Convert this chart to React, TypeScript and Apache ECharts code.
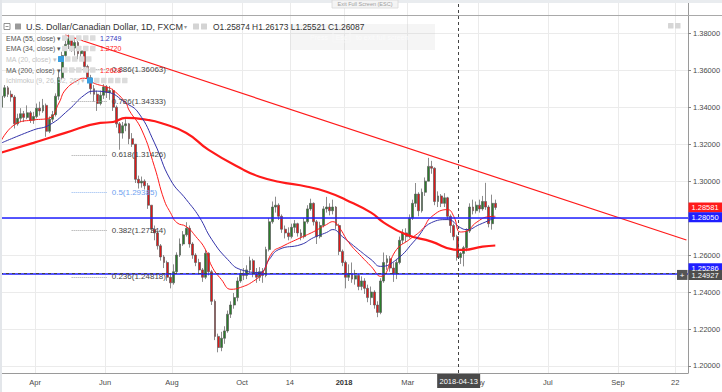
import React, { useEffect, useRef } from 'react';
import * as echarts from 'echarts';

// ---------- data (prices x 1e4: [open, close, low, high]) ----------
const candles: number[][] = [
  [13400,13460,13390,13475],[13460,13505,13450,13520],[13505,13470,13455,13515],[13470,13455,13430,13490],
  [13455,13310,13285,13465],[13310,13340,13300,13365],[13340,13365,13320,13395],[13365,13345,13320,13380],
  [13345,13370,13335,13410],[13370,13330,13315,13380],[13330,13350,13310,13375],[13350,13395,13340,13420],
  [13395,13380,13355,13430],[13380,13410,13370,13445],[13410,13270,13240,13420],[13270,13335,13260,13350],
  [13335,13360,13320,13380],[13360,13460,13350,13475],[13460,13560,13440,13590],[13560,13680,13550,13700],
  [13680,13740,13660,13760],[13740,13770,13715,13793],[13770,13720,13700,13785],[13720,13750,13680,13775],
  [13750,13690,13660,13760],[13690,13705,13650,13730],[13705,13620,13600,13710],[13620,13560,13540,13630],
  [13560,13500,13470,13575],[13500,13470,13430,13520],[13470,13420,13380,13490],[13420,13465,13410,13490],
  [13465,13510,13445,13525],[13510,13480,13450,13520],[13480,13490,13440,13515],[13490,13400,13380,13500],
  [13400,13310,13290,13410],[13310,13260,13170,13320],[13260,13300,13230,13320],[13300,13310,13270,13335],
  [13310,13230,13200,13315],[13230,13200,13185,13260],[13200,13010,12990,13200],[13010,12990,12960,13030],
  [12990,13000,12965,13025],[13000,12975,12955,13010],[12975,12870,12850,12990],[12870,12740,12720,12870],
  [12740,12720,12680,12760],[12720,12650,12630,12725],[12650,12590,12570,12660],[12590,12560,12530,12600],
  [12560,12480,12460,12570],[12480,12450,12420,12500],[12450,12510,12440,12550],[12510,12600,12500,12615],
  [12600,12660,12590,12690],[12660,12710,12650,12730],[12710,12745,12700,12778],[12745,12660,12640,12760],
  [12660,12600,12580,12670],[12600,12560,12540,12610],[12560,12520,12495,12580],[12520,12480,12455,12530],
  [12480,12610,12470,12630],[12610,12510,12490,12615],[12510,12350,12330,12520],[12350,12160,12140,12360],
  [12160,12100,12074,12175],[12100,12150,12080,12185],[12150,12190,12120,12215],[12190,12280,12180,12300],
  [12280,12330,12260,12350],[12330,12370,12310,12395],[12370,12460,12350,12480],[12460,12500,12450,12520],
  [12500,12490,12465,12530],[12490,12520,12470,12545],[12520,12570,12500,12592],[12570,12500,12480,12580],
  [12500,12480,12450,12530],[12480,12510,12460,12535],[12510,12490,12450,12530],[12490,12630,12480,12645],
  [12630,12780,12620,12800],[12780,12860,12770,12890],[12860,12870,12830,12916],[12870,12810,12790,12880],
  [12810,12740,12720,12820],[12740,12720,12690,12760],[12720,12700,12680,12750],[12700,12750,12690,12770],
  [12750,12770,12720,12790],[12770,12720,12700,12775],[12720,12700,12680,12740],[12700,12780,12690,12800],
  [12780,12850,12770,12870],[12850,12880,12840,12905],[12880,12780,12760,12885],[12780,12700,12660,12790],
  [12700,12760,12690,12780],[12760,12850,12750,12865],[12850,12860,12830,12915],[12860,12840,12815,12880],
  [12840,12860,12820,12900],[12860,12760,12740,12865],[12760,12620,12600,12770],[12620,12560,12540,12630],
  [12560,12480,12420,12570],[12480,12500,12460,12550],[12500,12470,12450,12560],[12470,12490,12440,12520],
  [12490,12430,12410,12500],[12430,12460,12410,12485],[12460,12420,12390,12475],[12420,12370,12345,12440],
  [12370,12400,12330,12430],[12400,12330,12310,12410],[12330,12290,12264,12350],[12290,12460,12280,12475],
  [12460,12560,12450,12614],[12560,12580,12520,12600],[12580,12530,12510,12595],[12530,12500,12455,12560],
  [12500,12560,12470,12580],[12560,12680,12550,12700],[12680,12720,12660,12740],[12720,12700,12670,12745],
  [12700,12800,12690,12820],[12800,12880,12790,12900],[12880,12930,12860,12990],[12930,12840,12810,12940],
  [12840,12940,12830,12960],[12940,13000,12920,13020],[13000,13080,13000,13126],[13080,13070,13040,13110],
  [13070,12890,12870,13075],[12890,12920,12860,12945],[12920,12880,12860,12930],[12880,12910,12860,12935],
  [12910,12810,12790,12915],[12810,12760,12720,12820],[12760,12700,12680,12770],[12700,12587,12570,12710],
  [12587,12609,12552,12617],[12609,12640,12539,12650],[12640,12730,12620,12745],[12730,12860,12720,12880],
  [12860,12840,12820,12900],[12840,12870,12825,12890],[12870,12850,12830,12900],[12850,12890,12840,12920],
  [12890,12860,12845,12991],[12860,12770,12750,12870],[12770,12880,12738,12927],[12880,12858,12845,12900],
];

const ema34Points: number[][] = [
  [0,1.3223],[5,1.3315],[10,1.3331],[15,1.3342],[18,1.3423],[20,1.3493],[24,1.3547],[26,1.3557],
  [29,1.3530],[33,1.3509],[35,1.3493],[39,1.3423],[40,1.3385],[44,1.3277],[48,1.3078],[51,1.2900],
  [53,1.2830],[55,1.2776],[58,1.2754],[61,1.2700],[64,1.2630],[66,1.2539],[69,1.2468],[72,1.2415],
  [75,1.2425],[79,1.2458],[82,1.2506],[85,1.2614],[88,1.2646],[94,1.2695],[98,1.2727],[102,1.2765],
  [104,1.2781],[106,1.2749],[109,1.2668],[113,1.2592],[116,1.2539],[119,1.2485],[124,1.2630],
  [128,1.2684],[132,1.2738],[135,1.2808],[140,1.2846],[142,1.2808],[144,1.2725],[146,1.2730],
  [149,1.2776],[153,1.2808],[155,1.2810],
];
const ema55Points: number[][] = [
  [0,1.3207],[10,1.3277],[15,1.3304],[21,1.3385],[26,1.3466],[29,1.3487],[33,1.3482],[39,1.3423],
  [43,1.3369],[48,1.3207],[53,1.3008],[58,1.2900],[62,1.2808],[66,1.2684],[71,1.2576],[75,1.2522],
  [81,1.2506],[84,1.2576],[87,1.2630],[94,1.2657],[98,1.2695],[102,1.2722],[104,1.2738],[107,1.2700],
  [112,1.2630],[116,1.2576],[119,1.2539],[124,1.2576],[130,1.2684],[135,1.2776],[140,1.2792],
  [144,1.2749],[146,1.2738],[150,1.2765],[155,1.2803],
];
const ma200Points: number[][] = [
  [0,1.3155],[10,1.3207],[20,1.3261],[31,1.3315],[35,1.3320],[39,1.3342],[46,1.3331],[50,1.3315],
  [58,1.3261],[65,1.3169],[76,1.3061],[81,1.3024],[87,1.2997],[96,1.2970],[102,1.2943],[108,1.2900],
  [116,1.2830],[120,1.2776],[127,1.2711],[135,1.2673],[142,1.2630],[145,1.2628],[151,1.2646],[155,1.2652],
];
const trendPoints: number[][] = [[20, 1.37908], [215, 1.26817]];

const fibRatios = ['0.886', '0.786', '0.618', '0.5', '0.382', '0.236'];
const fibValues = [1.36063, 1.34333, 1.31426, 1.29385, 1.27344, 1.24818];
const fibFrom = 22;
const fibTo = 33;

const levelValues = [1.2805, 1.25286];
const lastPrice = 1.28581;
const crossPrice = 1.24927;
const crossCat = 144;
const crossDate = '2018-04-13';

const yMin = 1.2;
const yMax = 1.4;
const yStep = 0.02;

const xTickIdx = [11, 33, 54, 76, 91, 108, 128, 150, 172, 194, 212];
const xTickText = ['Apr', 'Jun', 'Aug', 'Oct', '14', '2018', 'Mar', 'May', 'Jul', 'Sep', '22'];

const title = 'U.S. Dollar/Canadian Dollar, 1D, FXCM';
const ohlcText = 'O1.25874 H1.26173 L1.25521 C1.26087';
const legendNames = ['EMA (55, close) \u25BE', 'EMA (34, close) \u25BE', 'MA (20, close) \u25BE', 'MA (200, close) \u25BE', 'Ichimoku (9, 26, 52, 26) \u25BE'];
const legendValues = ['1.2749', '1.2720', '', '1.2628', ''];

const FONT = '"Liberation Sans", Arial, Helvetica, sans-serif';

const txt = (x: number, y: number, text: string, fill: string, size: number, extra: any = {}) => ({
  type: 'text', x, y, z: 70,
  style: { text, fill, fontSize: size, fontFamily: FONT, align: 'left', textAlign: 'left', verticalAlign: 'middle', textVerticalAlign: 'middle', ...extra },
});
const sq = (x: number, y: number, s: number, fill: string) => ({ type: 'rect', z: 70, shape: { x, y, width: s, height: s, r: 0.5 }, style: { fill } });

function buildGraphic() {
  const g: any[] = [];
  g.push({ type: 'rect', z: 50, shape: { x: 0, y: 0, width: 722, height: 3 }, style: { fill: '#e9ecef' } });
  g.push({ type: 'rect', z: 50, shape: { x: 0, y: 0, width: 2, height: 392 }, style: { fill: '#e3e6ea' } });
  g.push({ type: 'line', z: 50, shape: { x1: 2, y1: 15.5, x2: 722, y2: 15.5 }, style: { stroke: '#a9a9a9', lineWidth: 1 } });
  g.push({ type: 'rect', z: 60, shape: { x: 332, y: 0, width: 66, height: 8 }, style: { fill: '#f4f4f4', stroke: '#d8d8d8', lineWidth: 0.8 } });
  g.push(txt(365, 4, 'Exit Full Screen (ESC)', '#a0a0a0', 5.5, { align: 'center', textAlign: 'center' }));
  g.push({ type: 'rect', z: 60, shape: { x: 290, y: 24, width: 145, height: 26 }, style: { fill: 'rgba(190,190,190,0.16)' } });
  g.push(txt(310, 37, 'Press', '#fbfbfb', 7));
  g.push({ type: 'rect', z: 60, shape: { x: 333, y: 32, width: 17, height: 10 }, style: { fill: 'none', stroke: '#f8f8f8', lineWidth: 0.8 } });
  g.push(txt(341.5, 37, 'Esc', '#fbfbfb', 7, { align: 'center', textAlign: 'center' }));
  g.push(txt(356, 37, 'to exit full screen', '#fbfbfb', 7));
  g.push({ type: 'rect', z: 70, shape: { x: 4, y: 23.5, width: 6, height: 6 }, style: { fill: '#fff', stroke: '#777', lineWidth: 0.8 } });
  g.push({ type: 'line', z: 71, shape: { x1: 5.5, y1: 26.5, x2: 8.5, y2: 26.5 }, style: { stroke: '#777', lineWidth: 0.8 } });
  g.push(sq(15, 23.5, 6, '#9a9a9a'));
  g.push(txt(26, 26.5, title, '#333', 9));
  g.push(txt(184, 26.5, '\u25BE', '#999', 6));
  g.push(sq(193, 23.5, 6, '#d4d4d4'));
  g.push(sq(201, 23.5, 6, '#d4d4d4'));
  g.push(txt(213, 26.5, ohlcText, '#333', 8.4));
  g.push(sq(668, 23, 5.5, '#d6d6d6'));
  g.push(sq(675, 23, 5.5, '#d6d6d6'));
  const rowY = [38, 48.5, 59, 70, 80.5];
  const dim = [false, false, true, false, true];
  const valColor = ['#3333bb', '#ff1a1a', '', '#ff1a1a', ''];
  const iconStart = [62, 62, 65, 62, 94];
  const iconCount = [5, 5, 4, 5, 5];
  const blueIcon = [0, 0, 58, 0, 87];
  rowY.forEach((y, i) => {
    g.push(txt(6, y, legendNames[i], dim[i] ? '#c4c4c4' : '#555', 7));
    if (blueIcon[i]) g.push(sq(blueIcon[i], y - 3, 6, '#3a9fe0'));
    for (let k = 0; k < iconCount[i]; k++) g.push(sq(iconStart[i] + k * 7, y - 2.75, 5.5, '#dcdcdc'));
    if (legendValues[i]) g.push(txt(100, y, legendValues[i], valColor[i], 7));
  });
  return g;
}

export default function App() {
  const ref = useRef<HTMLDivElement>(null);
  useEffect(() => {
    document.body.style.margin = '0';
    const chart = echarts.init(ref.current!, undefined, { renderer: 'svg' });
    const cats = Array.from({ length: 216 }, (_, i) => String(i));
    const axisCats = Array.from({ length: 217 }, (_, i) => String(i));
    const ohlc = candles.map((c) => [c[0] / 1e4, c[1] / 1e4, c[2] / 1e4, c[3] / 1e4]);
    const isTick = (i: number) => xTickIdx.indexOf(i) >= 0;
    const pxPerUnit = 1848.3;
    const topPx = 33.3 - (yMax - 1.38) * pxPerUnit;
    const mk = (data: any[]) => ({ silent: true, symbol: ['none', 'none'], animation: false, label: { show: false }, data });

    const lineMarks: any[] = [
      { yAxis: levelValues[0], lineStyle: { color: '#1f1fff', width: 1.5, type: 'solid' } },
      { yAxis: levelValues[1], lineStyle: { color: '#1f1fff', width: 1.5, type: 'solid' } },
      { yAxis: crossPrice, lineStyle: { color: '#444', width: 1, type: [3, 3] } },
    ];
    fibRatios.forEach((r, i) => {
      const blue = r === '0.5';
      lineMarks.push([
        {
          coord: [fibFrom, fibValues[i]],
          lineStyle: { color: blue ? '#8fb6f0' : '#a0a0a0', width: 1, type: 'dotted' },
          label: {
            show: true, position: 'end', distance: 5, formatter: `${r}(${fibValues[i].toFixed(5)})`,
            color: blue ? '#6d9ff0' : '#444', fontSize: 8, fontFamily: FONT, padding: [7, 0, 0, 0],
          },
        },
        { coord: [fibTo, fibValues[i]] },
      ]);
    });

    const option: any = {
      animation: false,
      backgroundColor: '#ffffff',
      textStyle: { fontFamily: FONT },
      grid: [
        { left: 0, width: 688, top: topPx, height: (yMax - yMin) * pxPerUnit, containLabel: false, outerBoundsMode: 'none' },
        { left: 0, width: 688, top: 3, height: 370, containLabel: false, outerBoundsMode: 'none' },
      ],
      xAxis: [
        { type: 'category', gridIndex: 0, data: cats, boundaryGap: true, show: false },
        {
          type: 'category', gridIndex: 1, data: axisCats, boundaryGap: false,
          axisLine: { show: true, lineStyle: { color: '#9a9a9a', width: 1 } },
          axisTick: { show: false },
          axisLabel: {
            interval: (i: number) => isTick(i), margin: 5, fontSize: 7.5, color: '#4a4a4a', fontFamily: FONT,
            formatter: (_v: string, i: number) => {
              const k = xTickIdx.indexOf(i);
              if (k < 0) return '';
              return xTickText[k] === '2018' ? '{b|2018}' : xTickText[k];
            },
            rich: { b: { fontWeight: 'bold', fontSize: 7.5, color: '#333', fontFamily: FONT } },
          },
          splitLine: { show: true, interval: (i: number) => isTick(i), lineStyle: { color: '#ebebeb', width: 1 } },
        },
      ],
      yAxis: [
        {
          type: 'value', gridIndex: 0, position: 'right', min: yMin, max: yMax, interval: yStep,
          axisLine: { show: false },
          axisTick: { show: true, length: 3, lineStyle: { color: '#888' } },
          axisLabel: { formatter: (v: number) => v.toFixed(5), fontSize: 7.5, color: '#4a4a4a', margin: 5, fontFamily: FONT, showMaxLabel: false },
          splitLine: { show: true, lineStyle: { color: '#ebebeb', width: 1 } },
        },
        {
          type: 'value', gridIndex: 1, position: 'right', min: 0, max: 1,
          axisLine: { show: true, lineStyle: { color: '#9a9a9a', width: 1 } },
          axisTick: { show: false }, axisLabel: { show: false }, splitLine: { show: false },
        },
      ],
      series: [
        {
          type: 'candlestick', xAxisIndex: 0, yAxisIndex: 0, data: ohlc, barWidth: 2.4,
          itemStyle: { color: '#2a7d2a', color0: '#e01818', borderColor: '#5a5a5a', borderColor0: '#5a5a5a', borderWidth: 0.7 },
        },
        { type: 'line', xAxisIndex: 0, yAxisIndex: 0, data: ma200Points, smooth: 0.5, symbol: 'none', lineStyle: { color: '#ff1a1a', width: 2.2 } },
        { type: 'line', xAxisIndex: 0, yAxisIndex: 0, data: ema55Points, smooth: 0.5, symbol: 'none', lineStyle: { color: '#3333aa', width: 1 } },
        { type: 'line', xAxisIndex: 0, yAxisIndex: 0, data: ema34Points, smooth: 0.5, symbol: 'none', lineStyle: { color: '#ff1a1a', width: 1 } },
        {
          type: 'line', xAxisIndex: 0, yAxisIndex: 0, data: trendPoints, symbol: 'none', clip: false,
          lineStyle: { color: '#ff1a1a', width: 1.2 }, markLine: mk(lineMarks),
        },
        {
          type: 'line', xAxisIndex: 1, yAxisIndex: 1, data: [], symbol: 'none', clip: false,
          markLine: mk([{ xAxis: crossCat, lineStyle: { color: '#444', width: 1, type: [3, 3] } }]),
        },
      ],
    };
    chart.setOption(option);

    // price / date tags placed through the axes' own scales
    const tags: any[] = [];
    const priceTag = (v: number, bg: string) => {
      const y = chart.convertToPixel({ yAxisIndex: 0 }, v) as number;
      tags.push({ type: 'rect', z: 80, shape: { x: 688.5, y: y - 5, width: 34, height: 10 }, style: { fill: bg } });
      tags.push({ ...txt(691.5, y + 0.3, v.toFixed(5), '#ffffff', 7.5), z: 81 });
    };
    priceTag(lastPrice, '#ff1a1a');
    priceTag(levelValues[0], '#1f1fff');
    priceTag(levelValues[1], '#1f1fff');
    priceTag(crossPrice, '#4d4d4d');
    const cy = chart.convertToPixel({ yAxisIndex: 0 }, crossPrice) as number;
    tags.push({ type: 'rect', z: 80, shape: { x: 677, y: cy - 5, width: 10.5, height: 10 }, style: { fill: '#555' } });
    tags.push({ ...txt(682.2, cy + 0.3, '+', '#ffffff', 8, { align: 'center', textAlign: 'center' }), z: 81 });
    const cx = chart.convertToPixel({ xAxisIndex: 1 }, crossCat) as number;
    tags.push({ type: 'rect', z: 80, shape: { x: cx - 21.5, y: 374, width: 43, height: 14 }, style: { fill: '#4a4a4a' } });
    tags.push({ ...txt(cx, 381.3, crossDate, '#ffffff', 7.5, { align: 'center', textAlign: 'center' }), z: 81 });

    chart.setOption({ graphic: buildGraphic().concat(tags) });
    return () => chart.dispose();
  }, []);
  return <div ref={ref} style={{ position: 'absolute', left: 0, top: 0, width: 722, height: 392 }} />;
}
